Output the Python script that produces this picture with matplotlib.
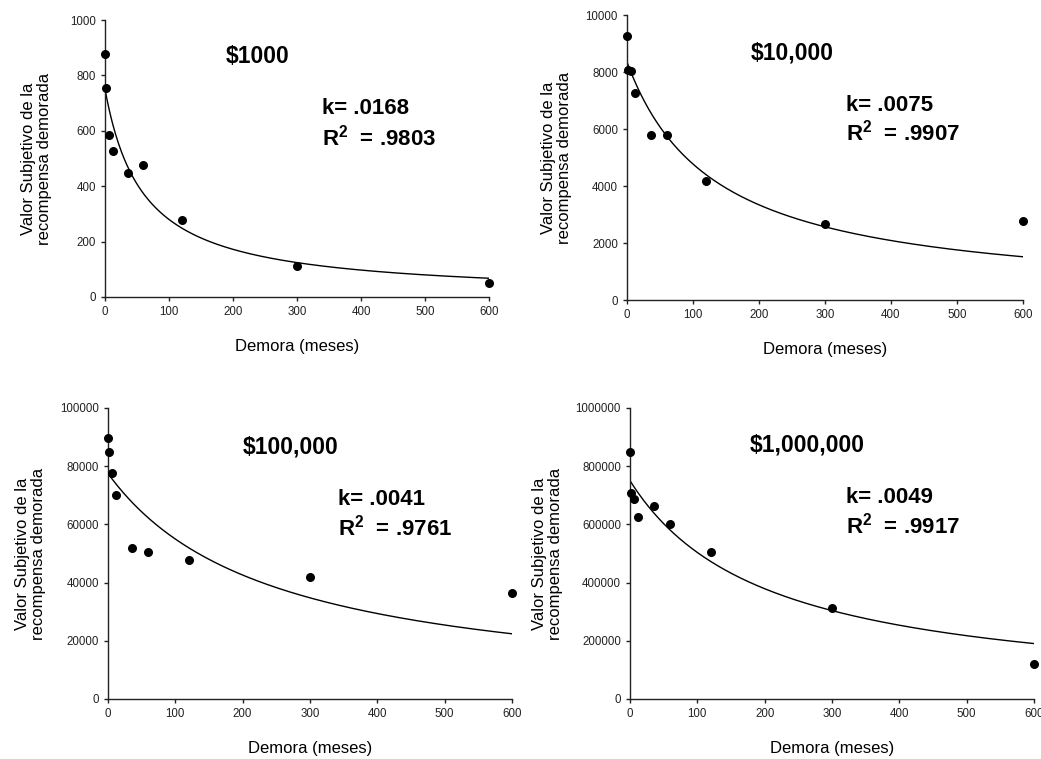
import numpy as np
import matplotlib.pyplot as plt
from matplotlib import font_manager
from matplotlib.ticker import FormatStrFormatter

# keep the narrow variant out of the "Liberation Sans" lookup
font_manager.fontManager.ttflist = [f for f in font_manager.fontManager.ttflist
                                    if 'Narrow' not in f.fname]

plt.rcParams['font.family'] = ['Liberation Sans', 'DejaVu Sans']
plt.rcParams['mathtext.fontset'] = 'custom'
plt.rcParams['mathtext.rm'] = 'Liberation Sans'
plt.rcParams['mathtext.bf'] = 'Liberation Sans:bold'

# delays in months: 1 week, 1 month, 6 months, 1, 3, 5, 10, 25, 50 years
delays = [0.25, 1, 6, 12, 36, 60, 120, 300, 600]

amounts = ['$1000', '$10,000', '$100,000', '$1,000,000']
values_1k = [879, 755, 584, 526, 449, 477, 277, 112, 52]
values_10k = [9276, 8084, 8026, 7266, 5806, 5783, 4171, 2652, 2780]
values_100k = [89600, 84800, 77500, 70100, 51800, 50600, 47700, 42000, 36300]
values_1m = [848800, 709000, 686000, 626600, 664400, 601400, 505200, 313900, 121400]

# hyperbolic fit V = A / (1 + k*D)
k_values = [0.0168, 0.0075, 0.0041, 0.0049]
k_labels = ['.0168', '.0075', '.0041', '.0049']
r2_labels = ['.9803', '.9907', '.9761', '.9917']
a_values = [750, 8350, 77500, 750000]
y_max = [1000, 10000, 100000, 1000000]
y_step = [200, 2000, 20000, 200000]

all_values = [values_1k, values_10k, values_100k, values_1m]

# axes rectangles (left, bottom, width, height) in figure fraction
rects = [
    (0.1009, 0.6087, 0.3689, 0.3649),
    (0.6023, 0.6047, 0.3804, 0.3755),
    (0.1037, 0.0791, 0.3881, 0.3834),
    (0.6052, 0.0791, 0.3881, 0.3834),
]
title_pos = [(0.398, 0.870), (0.417, 0.867), (0.453, 0.866), (0.438, 0.873)]
k_pos = [(0.565, 0.682, 0.574), (0.553, 0.684, 0.586),
         (0.569, 0.687, 0.588), (0.535, 0.694, 0.595)]
ylabel_pad = [13, 10, 10, 9]

fig = plt.figure(figsize=(10.41, 7.59), dpi=100)

for i in range(4):
    ax = fig.add_axes(rects[i])
    xs = np.linspace(0, 600, 400)
    ax.plot(xs, a_values[i] / (1 + k_values[i] * xs), color='black', lw=1.0)
    ax.scatter(delays, all_values[i], s=30, color='black', zorder=3, clip_on=False)

    ax.set_xlim(0, 600)
    ax.set_ylim(0, y_max[i])
    ax.set_xticks(range(0, 601, 100))
    ax.set_yticks(np.arange(0, y_max[i] + 1, y_step[i]))
    ax.yaxis.set_major_formatter(FormatStrFormatter('%d'))
    ax.spines['top'].set_visible(False)
    ax.spines['right'].set_visible(False)
    for s in ('left', 'bottom'):
        ax.spines[s].set_linewidth(1.0)
        ax.spines[s].set_color('#222222')
    ax.tick_params(axis='both', direction='out', length=3, width=1.0,
                   labelsize=8.3, colors='#222222')

    ax.set_xlabel('Demora (meses)', fontsize=12, labelpad=15)
    ax.set_ylabel('Valor Subjetivo de la\nrecompensa demorada', fontsize=12,
                  labelpad=ylabel_pad[i], linespacing=1.1)

    tx, ty = title_pos[i]
    ax.text(tx, ty, amounts[i].replace('$', r'\$'), transform=ax.transAxes,
            fontsize=16.5, fontweight='bold', ha='center', va='center')
    kx, ky, ry = k_pos[i]
    ax.text(kx, ky, 'k= ' + k_labels[i], transform=ax.transAxes,
            fontsize=16, fontweight='bold', ha='left', va='center')
    ax.text(kx, ry, r'R$^\mathbf{2}$  = ' + r2_labels[i], transform=ax.transAxes,
            fontsize=16, fontweight='bold', ha='left', va='center')

fig.savefig('out.png', dpi=100)
